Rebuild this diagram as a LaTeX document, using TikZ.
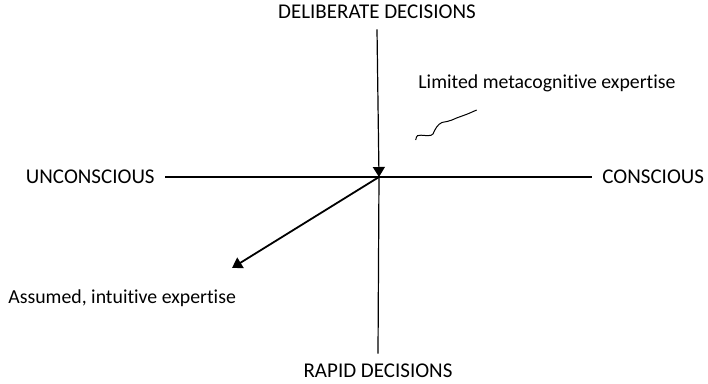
\documentclass[tikz,border=0pt]{standalone}
\usepackage{fontspec}
\setmainfont{Carlito}[Ligatures=NoCommon]
\usetikzlibrary{arrows.meta}
\begin{document}
\begin{tikzpicture}[x=0.5pt,y=-0.5pt,font=\fontsize{10.5}{12}\selectfont,
    axis/.style={line width=0.6pt},
    lbl/.style={inner xsep=5pt,inner ysep=5pt},
    note/.style={anchor=west,inner sep=0pt,font=\fontsize{9.9}{12}\selectfont}]
  \useasboundingbox (0,0) rectangle (708,384);
  % the four ends
  \node[lbl] (delib) at (377,12) {DELIBERATE DECISIONS};
  \node[lbl] (rapid) at (378,371) {RAPID DECISIONS};
  \node[lbl,anchor=east] (uncon) at (165,177) {UNCONSCIOUS};
  \node[lbl,anchor=west] (con) at (592,177) {CONSCIOUS};
  \coordinate (o) at (379,177);

  \draw[axis] (uncon.east) -- (con.west);
  \draw[axis,-{Triangle[length=5pt,width=6pt]}] (delib.south) -- (o);
  \draw[axis] (o) -- (rapid.north);

  % the two expertise labels
  \node[note] (assumed) at (8,298) {Assumed, intuitive expertise};
  \node[note] (limited) at (418,83) {Limited metacognitive expertise};
  \coordinate (tip) at (232,268);
  \draw[line width=0.9pt,-{Triangle[length=5pt,width=6pt]}] (o) -- (tip);

  % squiggle under the upper label
  \draw[line width=0.5pt] (415.7,140) .. controls (416.5,135) and (418,135) .. (421,135.2)
    .. controls (426,135.5) and (431,136.5) .. (433,134)
    .. controls (435,129) and (438,124) .. (442,122.5)
    .. controls (446,121.5) and (449,121.5) .. (452,120)
    .. controls (458,117) and (466,115) .. (471,112.5) -- (476.7,110);
\end{tikzpicture}
\end{document}
